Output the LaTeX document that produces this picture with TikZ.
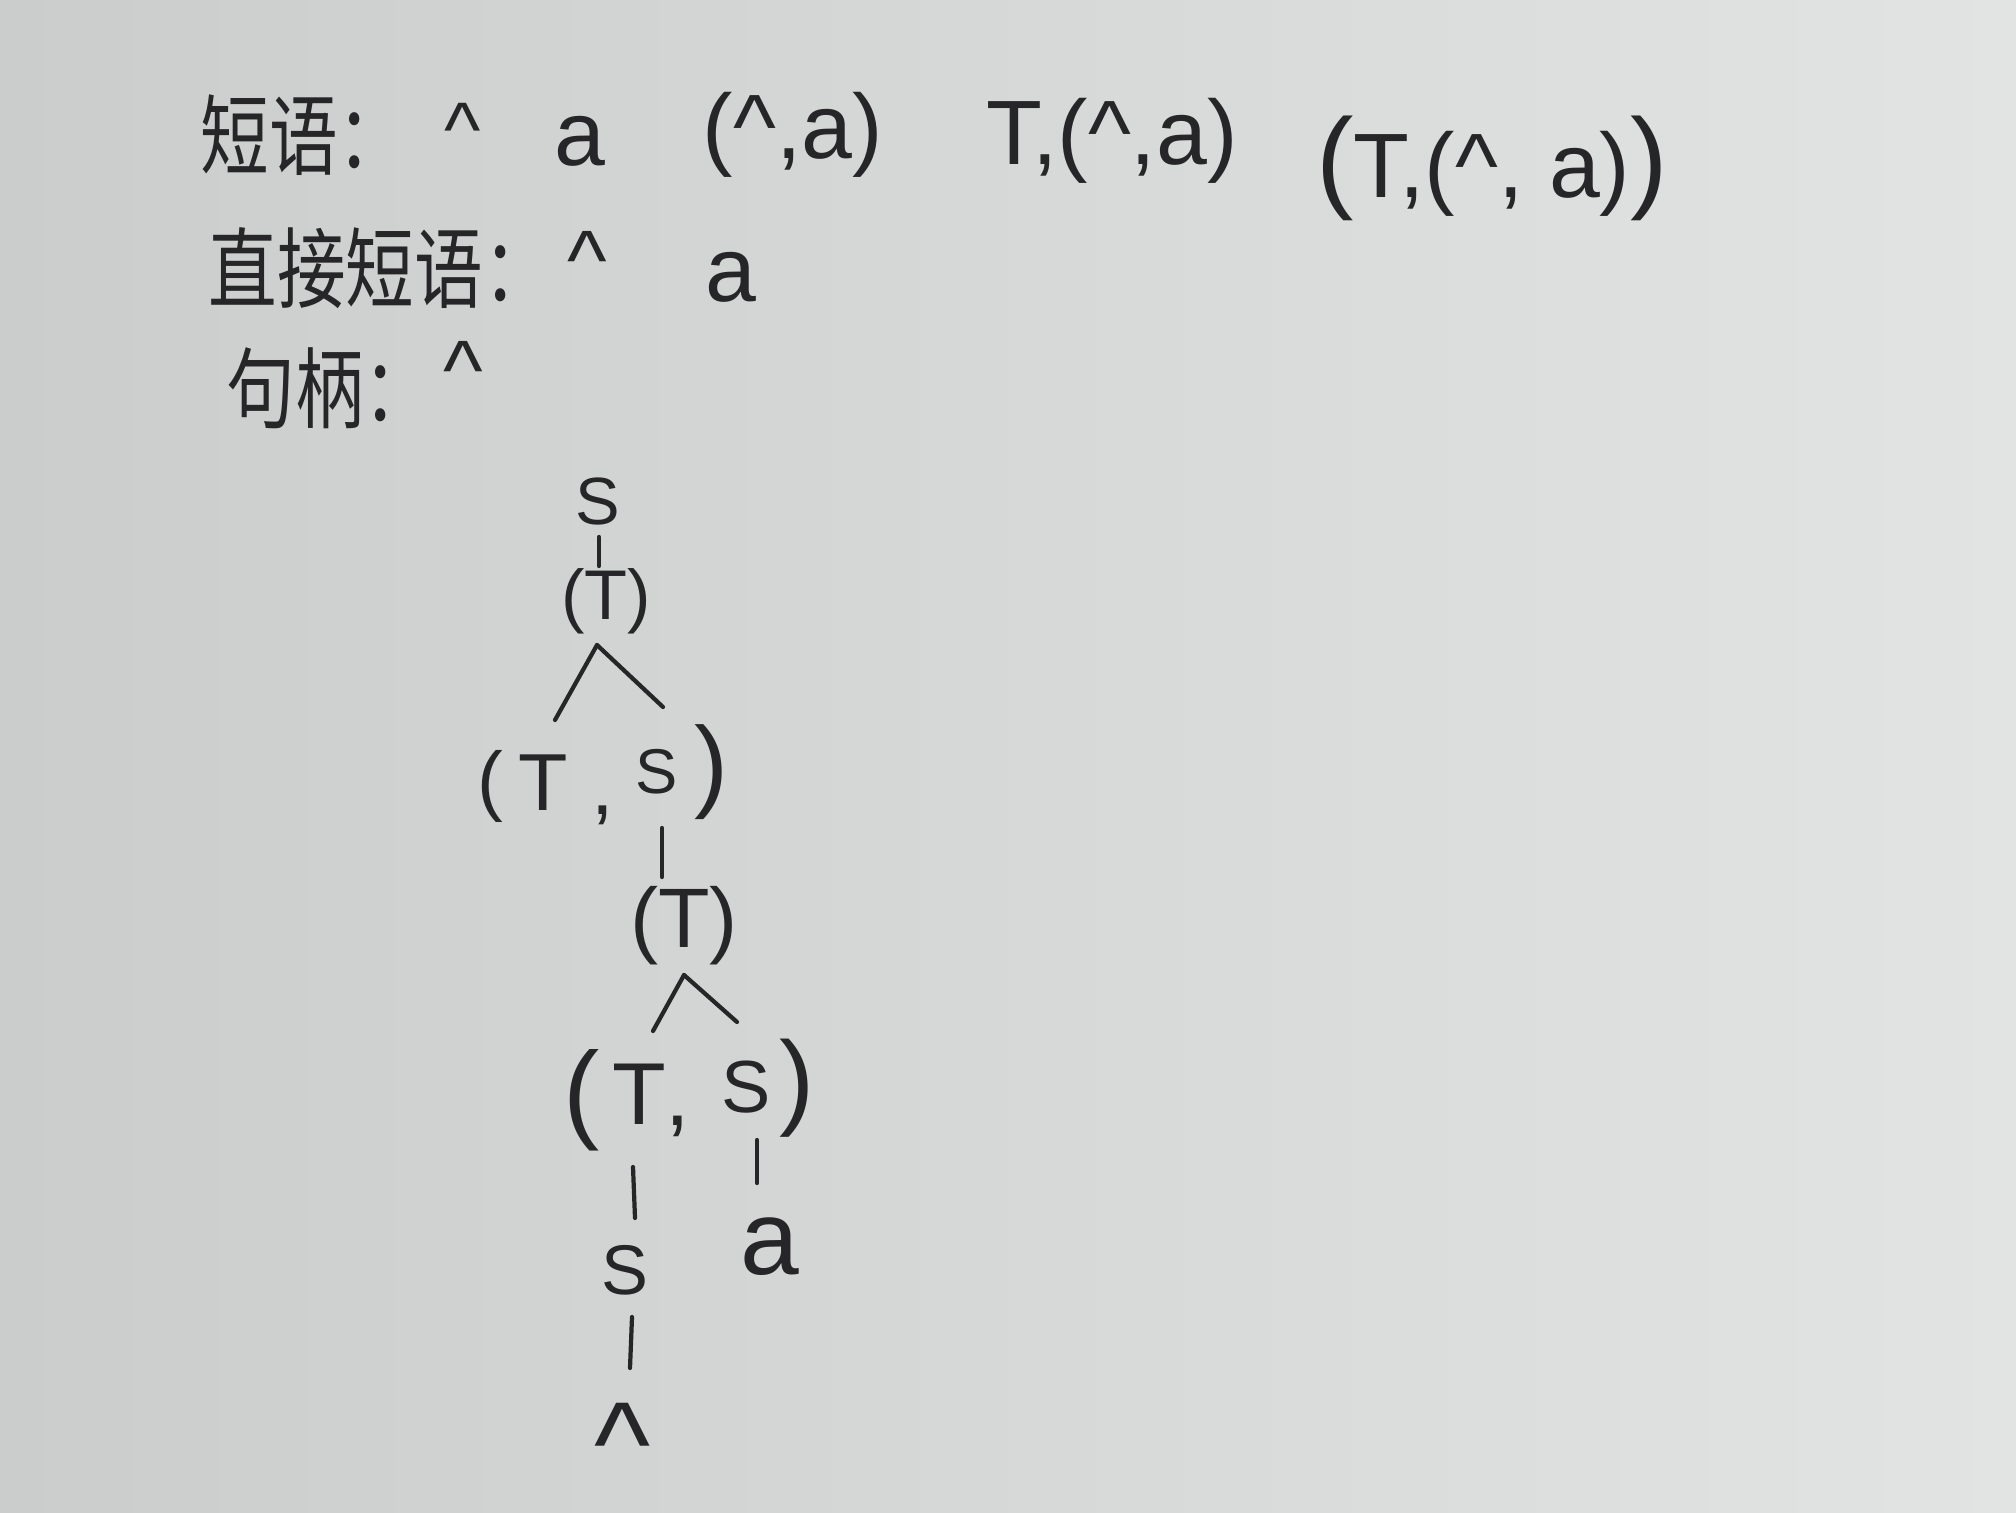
\documentclass[tikz,border=0pt]{standalone}
\usepackage{fontspec}
\setmainfont{Liberation Sans}
\newfontfamily\cjkf{Noto Sans CJK SC}
\definecolor{ink}{RGB}{38,38,40}
\definecolor{paperL}{RGB}{203,204,204}
\definecolor{paperR}{RGB}{226,227,227}
\newcommand{\fsz}[1]{\fontsize{#1}{#1}\selectfont}
\tikzset{
  lbl/.style={inner sep=0pt, text=ink},
  zh/.style={lbl, anchor=west, font=\cjkf\fsz{25}},
  caret/.style={lbl, anchor=north},
  edge/.style={draw=ink, line width=1.2pt, line cap=round},
}
\begin{document}
\begin{tikzpicture}[x=0.01cm,y=-0.01cm]
\shade[left color=paperL, right color=paperR] (0,0) rectangle (2016,1512);
\useasboundingbox (0,0) rectangle (2016,1512);

% row 1
\node[zh] (r1zh) at (200,135) {\scalebox{0.78}[1]{短语：}};
\node[caret, font=\fsz{22}] (r1c) at (463,103) {\textasciicircum};
\node[lbl, font=\fsz{26}] (r1a) at (580,141) {a};
\node[lbl, font=\fsz{26}] (r1p) at (793,135) {(\textasciicircum,a)};
\node[lbl, font=\fsz{26}] (r1q) at (1112,141) {T,(\textasciicircum,a)};
\node[lbl, font=\fsz{26}] (r1r) at (1492,168) {{\fsz{32}(}T,(\textasciicircum, a){\fsz{32})}};

% row 2
\node[zh] (r2zh) at (208,268) {\scalebox{0.78}[1]{直接短语：}};
\node[caret, font=\fsz{24}] (r2c) at (587,231) {\textasciicircum};
\node[lbl, font=\fsz{26}] (r2a) at (731,277) {a};

% row 3
\node[zh] (r3zh) at (226,388) {\scalebox{0.78}[1]{句柄：}};
\node[caret, font=\fsz{24}] (r3c) at (463,341) {\textasciicircum};

% tree
\node[lbl, font=\fsz{19}] (S0) at (598,501) {S};
\node[lbl, font=\fsz{20}] (tA) at (606,601) {(T)};

\node[lbl, font=\fsz{22}] (lp1) at (490,786) {(};
\node[lbl, font=\fsz{23}] (tB) at (543,783) {T};
\node[lbl, font=\fsz{23}] (cm1) at (603,815) {,};
\node[lbl, font=\fsz{18}] (sB) at (657,772) {S};
\node[lbl, font=\fsz{29}] (rp1) at (711,772) {)};

\node[lbl, font=\fsz{24}] (tC) at (684,926) {(T)};

\node[lbl, font=\fsz{31}] (lp2) at (582,1100) {(};
\node[lbl, font=\fsz{25}] (tD) at (639,1094) {T};
\node[lbl, font=\fsz{25}] (cm2) at (678,1126) {,};
\node[lbl, font=\fsz{21}] (sD) at (746,1087) {S};
\node[lbl, font=\fsz{30}] (rp2) at (797,1088) {)};

\node[lbl, font=\fsz{20}] (S3) at (625,1270) {S};
\node[lbl, font=\fsz{30}] (aD) at (770,1247) {a};
\node[caret, font=\fsz{34}] (cD) at (623,1403) {\textasciicircum};

% connectors
\draw[edge] ([shift={(1,36)}]S0.center) -- ([shift={(-7,-35)}]tA.center);
\draw[edge] ([shift={(-9,44)}]tA.center) -- ([shift={(12,-63)}]tB.center);
\draw[edge] ([shift={(-9,44)}]tA.center) -- ([shift={(6,-65)}]sB.center);
\draw[edge] ([shift={(5,56)}]sB.center) -- ([shift={(-22,-49)}]tC.center);
\draw[edge] ([shift={(0,49)}]tC.center) -- ([shift={(14,-63)}]tD.center);
\draw[edge] ([shift={(0,49)}]tC.center) -- ([shift={(-9,-65)}]sD.center);
\draw[edge] ([shift={(-6,73)}]tD.center) -- ([shift={(10,-52)}]S3.center);
\draw[edge] ([shift={(11,53)}]sD.center) -- ([shift={(-13,-64)}]aD.center);
\draw[edge] ([shift={(7,47)}]S3.center) -- ([shift={(7,-35)}]cD.north);
\end{tikzpicture}
\end{document}
